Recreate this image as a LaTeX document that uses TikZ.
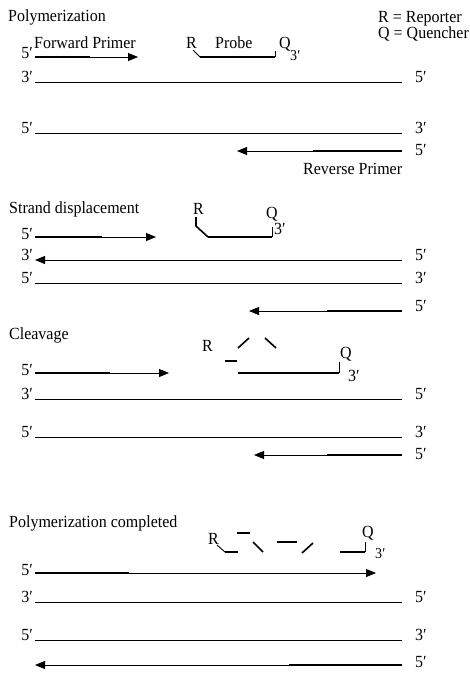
\documentclass[tikz,border=0pt]{standalone}
\usepackage{fontspec}
\setmainfont{Liberation Serif}[FakeStretch=0.94]
\usetikzlibrary{arrows.meta}

\tikzset{
  thinline/.style={line width=0.9pt},
  thickline/.style={line width=2.4pt},
  fragline/.style={line width=1.6pt},
  tipped/.style={thinline,-{Triangle[length=10pt,width=8pt]}},
  txt/.style={inner sep=0pt,font=\fontsize{17}{17}\selectfont},
  lend/.style={txt,anchor=base east},
  rend/.style={txt,anchor=base west},
  ttl/.style={txt,anchor=base west},
}
\newcommand{\fp}{5′}
\newcommand{\tp}{3′}

\begin{document}
\begin{tikzpicture}[x=1pt,y=-1pt]
\useasboundingbox (0,0) rectangle (469,675);

% ---------- legend ----------
\node[txt,anchor=north west,align=left,font=\fontsize{17}{13}\selectfont] (leg) at (378,11)
  {R = Reporter\\Q = Quencher};

% ---------- panel 1: polymerization ----------
\node[ttl] (t1) at (8,21) {Polymerization};
\node[ttl] (fwdtxt) at (34,48) {Forward Primer};
\coordinate (f1a) at (35,57); \coordinate (f1b) at (90,57); \coordinate (f1c) at (138,57);
\draw[tipped] (f1a) -- (f1c);
\draw[thickline] (f1a) -- (f1b);
\node[lend] (f1l) at (33,58) {\fp};

\node[ttl] (r1) at (186,48) {R};
\node[ttl] (pr1) at (215,48) {Probe};
\node[ttl] (q1) at (279,48) {Q};
\node[ttl,font=\fontsize{15}{15}\selectfont] (q1s) at (290,60) {\tp};
\coordinate (p1a) at (193,50); \coordinate (p1b) at (200,57);
\coordinate (p1c) at (275,57); \coordinate (p1d) at (275,51);
\draw[thinline] (p1a) -- (p1b);
\draw[thickline] (p1b) -- (p1c);
\draw[thinline] (p1c) -- (p1d);

\coordinate (s1a) at (35,82); \coordinate (s1b) at (402,82);
\draw[thinline] (s1a) -- (s1b);
\node[lend] (s1l) at (33,82) {\tp};
\node[rend] (s1r) at (415,82) {\fp};

\coordinate (c1a) at (35,133); \coordinate (c1b) at (402,133);
\draw[thinline] (c1a) -- (c1b);
\node[lend] (c1l) at (33,133) {\fp};
\node[rend] (c1r) at (415,133) {\tp};

\coordinate (v1a) at (402,151); \coordinate (v1b) at (313,151); \coordinate (v1c) at (237,151);
\draw[tipped] (v1a) -- (v1c);
\draw[thickline] (v1a) -- (v1b);
\node[rend] (v1r) at (415,155) {\fp};
\node[ttl] (revtxt) at (303,174) {Reverse Primer};

% ---------- panel 2: strand displacement ----------
\node[ttl] (t2) at (9,213) {Strand displacement};
\coordinate (f2a) at (35,237); \coordinate (f2b) at (102,237); \coordinate (f2c) at (156,237);
\draw[tipped] (f2a) -- (f2c);
\draw[thickline] (f2a) -- (f2b);
\node[lend] (f2l) at (33,239) {\fp};

\node[ttl] (r2) at (193,214) {R};
\node[ttl] (q2) at (266,218) {Q};
\node[ttl] (q2s) at (274,234) {\tp};
\coordinate (p2a) at (196,217); \coordinate (p2b) at (196,226);
\coordinate (p2c) at (208,237); \coordinate (p2d) at (272,237); \coordinate (p2e) at (272,227);
\draw[fragline,line join=miter] (p2a) -- (p2b) -- (p2c);
\draw[thickline] (p2c) -- (p2d);
\draw[thinline] (p2d) -- (p2e);

\coordinate (s2a) at (402,260); \coordinate (s2b) at (35,260);
\draw[tipped] (s2a) -- (s2b);
\node[lend] (s2l) at (33,260) {\tp};
\node[rend] (s2r) at (415,260) {\fp};

\coordinate (c2a) at (35,283); \coordinate (c2b) at (402,283);
\draw[thinline] (c2a) -- (c2b);
\node[lend] (c2l) at (33,283) {\fp};
\node[rend] (c2r) at (415,283) {\tp};

\coordinate (v2a) at (402,311); \coordinate (v2b) at (327,311); \coordinate (v2c) at (249,311);
\draw[tipped] (v2a) -- (v2c);
\draw[thickline] (v2a) -- (v2b);
\node[rend] (v2r) at (415,311) {\fp};

% ---------- panel 3: cleavage ----------
\node[ttl] (t3) at (9,339) {Cleavage};
\coordinate (f3a) at (35,373); \coordinate (f3b) at (110,373); \coordinate (f3c) at (169,373);
\draw[tipped] (f3a) -- (f3c);
\draw[thickline] (f3a) -- (f3b);
\node[lend] (f3l) at (33,375) {\fp};

\node[ttl] (r3) at (202,351) {R};
\node[ttl] (q3) at (340,358) {Q};
\node[ttl] (q3s) at (348,381) {\tp};
\draw[fragline] (225,361) -- (237,361);
\draw[fragline] (238,348) -- (249,338);
\draw[fragline] (265,338) -- (276,348);
\coordinate (p3a) at (238,373); \coordinate (p3b) at (339,373); \coordinate (p3c) at (339,362);
\draw[thickline] (p3a) -- (p3b);
\draw[thinline] (p3b) -- (p3c);

\coordinate (s3a) at (35,399); \coordinate (s3b) at (402,399);
\draw[thinline] (s3a) -- (s3b);
\node[lend] (s3l) at (33,399) {\tp};
\node[rend] (s3r) at (415,399) {\fp};

\coordinate (c3a) at (35,437); \coordinate (c3b) at (402,437);
\draw[thinline] (c3a) -- (c3b);
\node[lend] (c3l) at (33,437) {\fp};
\node[rend] (c3r) at (415,437) {\tp};

\coordinate (v3a) at (402,455); \coordinate (v3b) at (327,455); \coordinate (v3c) at (254,455);
\draw[tipped] (v3a) -- (v3c);
\draw[thickline] (v3a) -- (v3b);
\node[rend] (v3r) at (415,459) {\fp};

% ---------- panel 4: polymerization completed ----------
\node[ttl] (t4) at (9,527) {Polymerization completed};

\node[ttl] (r4) at (208,544) {R};
\node[ttl] (q4) at (362,537) {Q};
\node[ttl,font=\fontsize{15}{15}\selectfont] (q4s) at (375,558) {\tp};
\draw[thinline] (217,545) -- (225,552);
\draw[fragline] (225,552) -- (238,552);
\draw[fragline] (237,533) -- (250,533);
\draw[fragline] (253,542) -- (263,552);
\draw[fragline] (277,542) -- (297,542);
\draw[fragline] (302,553) -- (313,543);
\coordinate (p4a) at (340,552); \coordinate (p4b) at (365,552); \coordinate (p4c) at (365,542);
\draw[fragline] (p4a) -- (p4b);
\draw[thinline] (p4b) -- (p4c);

\coordinate (f4a) at (35,573); \coordinate (f4b) at (129,573); \coordinate (f4c) at (376,573);
\draw[tipped] (f4a) -- (f4c);
\draw[thickline] (f4a) -- (f4b);
\node[lend] (f4l) at (33,575) {\fp};

\coordinate (s4a) at (35,602); \coordinate (s4b) at (402,602);
\draw[thinline] (s4a) -- (s4b);
\node[lend] (s4l) at (33,602) {\tp};
\node[rend] (s4r) at (415,602) {\fp};

\coordinate (c4a) at (35,640); \coordinate (c4b) at (402,640);
\draw[thinline] (c4a) -- (c4b);
\node[lend] (c4l) at (33,640) {\fp};
\node[rend] (c4r) at (415,640) {\tp};

\coordinate (v4a) at (402,665); \coordinate (v4b) at (289,665); \coordinate (v4c) at (35,665);
\draw[tipped] (v4a) -- (v4c);
\draw[thickline] (v4a) -- (v4b);
\node[rend] (v4r) at (415,667) {\fp};

\end{tikzpicture}
\end{document}
